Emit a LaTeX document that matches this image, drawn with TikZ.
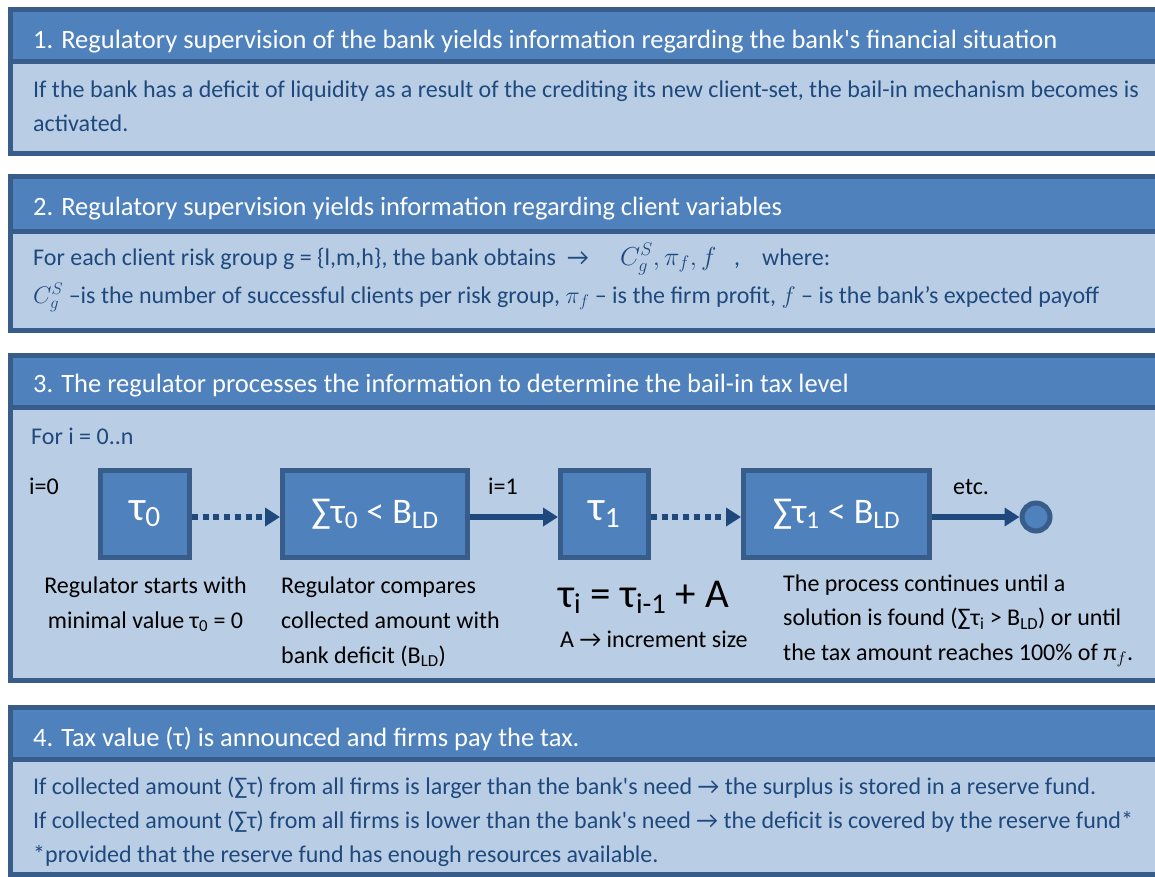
\documentclass[tikz,border=0pt]{standalone}
\usepackage{fix-cm}
\usepackage{fontspec}
\setmainfont{Carlito}
\usetikzlibrary{positioning,arrows.meta}
\definecolor{headblue}{HTML}{4F81BD}
\definecolor{bodyblue}{HTML}{B9CDE5}
\definecolor{edgeblue}{HTML}{385D8A}
\definecolor{inkblue}{HTML}{1F497D}
\begin{document}
\begin{tikzpicture}[x=1pt,y=-1pt,
  panel edge/.style={draw=edgeblue,line width=5pt},
  head text/.style={anchor=base west,inner sep=0pt,text=white,font=\fontsize{26.5}{30}\selectfont},
  body text/.style={anchor=base west,inner sep=0pt,text=inkblue,align=left,font=\fontsize{24}{34}\selectfont},
  note text/.style={anchor=base west,inner sep=0pt,text=black,align=left,font=\fontsize{24}{35}\selectfont},
  stepbox/.style={rectangle,draw=edgeblue,line width=5pt,fill=headblue,text=white,minimum height=87pt,inner sep=0pt},
  end dot/.style={circle,draw=edgeblue,line width=5pt,fill=headblue,minimum size=28pt,inner sep=0pt},
  flow arrow/.style={draw=inkblue,line width=5.5pt,-{Triangle[length=15pt,width=18pt]}},
  dot arrow/.style={flow arrow,dash pattern=on 6pt off 4.7pt}]
\useasboundingbox (0,0) rectangle (1155,876);
% the four panels, cut off at the right edge
\begin{scope}
\clip (0,0) rectangle (1155,876);
\foreach \ptop/\psep/\pbot in {9.5/61.5/153,176/231/330.5,355/407.5/680,707/759.5/874.5}{
  \fill[headblue] (10,\ptop) rectangle (1175,\psep);
  \fill[bodyblue] (10,\psep) rectangle (1175,\pbot);
  \draw[panel edge] (10,\psep) -- (1175,\psep);
  \draw[panel edge] (10,\ptop) rectangle (1175,\pbot);
}
\end{scope}
% panel 1
\node[head text] (h1) at (33,48) {1. Regulatory supervision of the bank yields information regarding the bank\textquotesingle s financial situation};
\node[body text] (b1) at (33,131) {If the bank has a deficit of liquidity as a result of the crediting its new client-set, the bail-in mechanism becomes is\\activated.};
% panel 2
\node[head text] (h2) at (33,215) {2. Regulatory supervision yields information regarding client variables};
\node[body text] (b2) at (33,265) {For each client risk group g = \{l,m,h\}, the bank obtains};
\node[body text] (to) at (567,265) {→};
\node[body text,font=\fontsize{26}{34}\selectfont] (vars) at (620,265) {$C_g^S,\pi_f,f$};
\node[body text] (comma) at (734,265) {,};
\node[body text] (where) at (762,265) {where:};
\node[body text] (b2b) at (33,303) {$C_g^S$ --is the number of successful clients per risk group, $\pi_f$ -- is the firm profit, $f$ -- is the bank’s expected payoff};
% panel 3
\node[head text] (h3) at (33,392) {3. The regulator processes the information to determine the bail-in tax level};
\node[body text] (loop) at (31,444) {For i = 0..n};
\node[note text] (i0) at (29,494) {i=0};
\node[note text] (i1) at (488,494) {i=1};
\node[note text] (etc) at (953,494) {etc.};
\node[stepbox,minimum width=89pt] (t0) at (145,514) {\fontsize{42}{46}\selectfont τ\textsubscript{0}};
\node[stepbox,minimum width=185pt] (s0) at (375,514) {\fontsize{36}{40}\selectfont ∑τ\textsubscript{0} < B\textsubscript{LD}};
\node[stepbox,minimum width=88pt] (t1) at (604.5,514) {\fontsize{42}{46}\selectfont τ\textsubscript{1}};
\node[stepbox,minimum width=186pt] (s1) at (836.5,514) {\fontsize{36}{40}\selectfont ∑τ\textsubscript{1} < B\textsubscript{LD}};
\node[end dot] (end) at (1036,517) {};
\draw[dot arrow] ([yshift=-3pt]t0.east) -- ([yshift=-3pt]s0.west);
\draw[flow arrow] ([yshift=-3pt]s0.east) -- ([yshift=-3pt]t1.west);
\draw[dot arrow] ([yshift=-3pt]t1.east) -- ([yshift=-3pt]s1.west);
\draw[flow arrow] ([yshift=-3pt]s1.east) -- (end.west);
\node[note text,align=center,anchor=base] (c0) at (145.5,628) {Regulator starts with\\minimal value τ\textsubscript{0} = 0};
\node[note text] (c1) at (281,663) {Regulator compares\\collected amount with\\bank deficit (B\textsubscript{LD})};
\node[note text,font=\fontsize{41}{46}\selectfont] (rule) at (558,607) {τ\textsubscript{i} = τ\textsubscript{i-1} + A};
\node[note text] (inc) at (560,647) {A → increment size};
\node[note text,font=\fontsize{24}{34.5}\selectfont] (c2) at (783,660) {The process continues until a\\solution is found (∑τ\textsubscript{i} > B\textsubscript{LD}) or until\\the tax amount reaches 100\% of π\textsubscript{$f$}.};
% panel 4
\node[head text] (h4) at (33,746) {4. Tax value (τ) is announced and firms pay the tax.};
\node[body text] (b4) at (33,862) {If collected amount (∑τ) from all firms is larger than the bank\textquotesingle s need → the surplus is stored in a reserve fund.\\
If collected amount (∑τ) from all firms is lower than the bank\textquotesingle s need → the deficit is covered by the reserve fund*\\
*provided that the reserve fund has enough resources available.};
\end{tikzpicture}
\end{document}
